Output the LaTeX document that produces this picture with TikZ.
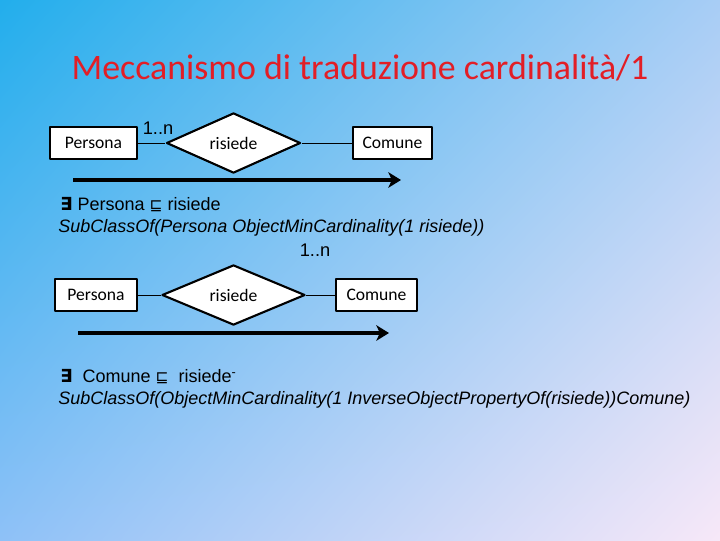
\documentclass[tikz,border=0pt]{standalone}
\usepackage{fontspec}
\setmainfont{Liberation Sans}
\newfontfamily\calibri{Carlito}
\newfontfamily\symfont{DejaVu Sans}
\usetikzlibrary{arrows.meta,shapes.geometric,shadings}
\definecolor{titlered}{RGB}{226,30,38}
\definecolor{bgtl}{RGB}{34,174,236}
\definecolor{bgtr}{RGB}{168,205,245}
\definecolor{bgbl}{RGB}{142,193,247}
\definecolor{bgbr}{RGB}{247,232,248}
\newcommand{\esiste}{{\symfont\bfseries\itshape ∃}}
\newcommand{\incluso}{{\symfont\fontsize{11}{12}\selectfont ⊑}}
\begin{document}
\begin{tikzpicture}[x=0.025cm, y=-0.025cm, line join=round,
  font=\fontsize{12.8}{15}\selectfont,
  entity/.style={draw, line width=1.5pt, fill=white, minimum height=0.8cm, inner sep=0pt, font=\calibri\fontsize{12.5}{14}\selectfont},
  relation/.style={diamond, draw, line width=1.5pt, fill=white, inner sep=0pt, font=\calibri\fontsize{12.5}{14}\selectfont},
  link/.style={line width=0.6pt},
  bigarrow/.style={line width=3.2pt, -{Stealth[length=9pt, width=11pt, inset=2.5pt]}},
  card/.style={font=\fontsize{13}{15}\selectfont},
  formula/.style={anchor=west, inner sep=0pt}]
  \useasboundingbox (0,0) rectangle (720,540);
  \shade[upper left=bgtl, upper right=bgtr, lower left=bgbl, lower right=bgbr] (0,0) rectangle (720,540);
  % titolo
  \node[text=titlered, font=\calibri\fontsize{25.5}{30}\selectfont] (titolo) at (360,68) {Meccanismo di traduzione cardinalità/1};
  % primo schema
  \node[entity, minimum width=2.175cm] (persona1) at (93.5,143) {Persona};
  \node[relation, minimum width=3.35cm, minimum height=1.3cm] (risiede1) at (233.5,143) {risiede};
  \node[entity, minimum width=1.975cm] (comune1) at (392.5,143) {Comune};
  \draw[link] (persona1.east) -- (risiede1.west);
  \draw[link] (risiede1.east) -- (comune1.west);
  \node[card] (card1) at (158,128) {1..n};
  \coordinate (freccia1a) at (73,180);
  \coordinate (freccia1b) at (401,180);
  \draw[bigarrow] (freccia1a) -- (freccia1b);
  \node[formula] (dl1) at (60,205) {\esiste\ Persona \incluso\ risiede};
  \node[formula, font=\fontsize{12.8}{15}\selectfont\itshape] (owl1) at (58,228) {SubClassOf(Persona ObjectMinCardinality(1 risiede))};
  % secondo schema
  \node[card] (card2) at (315,250) {1..n};
  \node[entity, minimum width=2.05cm] (persona2) at (96,295) {Persona};
  \node[relation, minimum width=3.575cm, minimum height=1.25cm] (risiede2) at (233.5,295) {risiede};
  \node[entity, minimum width=2.025cm] (comune2) at (376.5,295) {Comune};
  \draw[link] (persona2.east) -- (risiede2.west);
  \draw[link] (risiede2.east) -- (comune2.west);
  \coordinate (freccia2a) at (78,333);
  \coordinate (freccia2b) at (389,333);
  \draw[bigarrow] (freccia2a) -- (freccia2b);
  \node[formula] (dl2) at (60,377) {\esiste\ \ Comune \incluso\ \ risiede\textsuperscript{-}};
  \node[formula, font=\fontsize{12.8}{15}\selectfont\itshape] (owl2) at (58,400) {SubClassOf(ObjectMinCardinality(1 InverseObjectPropertyOf(risiede))Comune)};
\end{tikzpicture}
\end{document}
